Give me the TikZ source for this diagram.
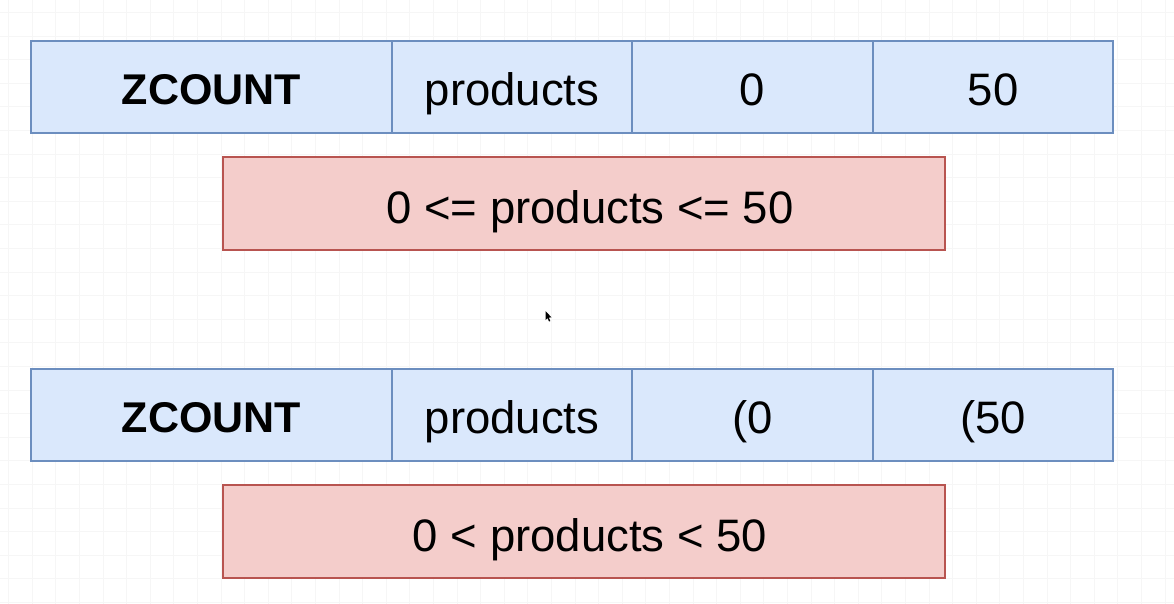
\documentclass[tikz,border=0pt]{standalone}
\usepackage{fontspec}
\setmainfont{Liberation Sans}
\definecolor{bfill}{HTML}{DAE8FC}
\definecolor{bline}{HTML}{6C8EBF}
\definecolor{rfill}{HTML}{F4CDCB}
\definecolor{rline}{HTML}{B85450}
\definecolor{gridc}{HTML}{F6F6F6}
\tikzset{
  cell/.style={draw=bline, fill=bfill, line width=2pt, inner sep=0pt, outer sep=0pt,
    minimum height=92pt, text height=38pt, text depth=0pt,
    font=\fontsize{45.5}{52}\selectfont},
  cond/.style={draw=rline, fill=rfill, line width=2pt, inner sep=0pt, outer sep=0pt,
    minimum width=722pt, minimum height=93pt, text height=39pt, text depth=0pt,
    font=\fontsize{45.5}{52}\selectfont},
  bold/.style={font=\fontsize{43}{50}\selectfont\bfseries, text height=36pt},
}
\begin{document}
\begin{tikzpicture}[x=1pt,y=-1pt]
\fill[white] (0,0) rectangle (1174,604);
\useasboundingbox (0,0) rectangle (1174,604);
% faint grid
\foreach \i in {0,...,49} {
  \draw[gridc, line width=0.7pt] ({8.6+23.6*\i},0) -- ({8.6+23.6*\i},604);
}
\foreach \j in {0,...,25} {
  \draw[gridc, line width=0.7pt] (0,{12.4+23.6*\j}) -- (1174,{12.4+23.6*\j});
}
% top row
\node[cell, bold, minimum width=361pt] (t1) at (211.5,87) {ZCOUNT};
\node[cell, minimum width=240pt] (t2) at (512,87) {products};
\node[cell, minimum width=241pt] (t3) at (752.5,87) {0};
\node[cell, minimum width=240pt] (t4) at (993,87) {50};
\node[cond] (c1) at (584,203.5) {\hspace*{12pt}0 <= products <= 50};
% bottom row
\node[cell, bold, minimum width=361pt] (b1) at (211.5,414.5) {ZCOUNT};
\node[cell, minimum width=240pt] (b2) at (512,414.5) {products};
\node[cell, minimum width=241pt] (b3) at (752.5,414.5) {(0};
\node[cell, minimum width=240pt] (b4) at (993,414.5) {(50};
\node[cond] (c2) at (584,531.5) {\hspace*{12pt}0 < products < 50};
% mouse cursor
\fill[black] (545.5,311) -- (545.5,320) -- (547.5,318) -- (549,321.5) -- (550.3,321) -- (548.8,317.6) -- (551.5,317.4) -- cycle;
\end{tikzpicture}
\end{document}
